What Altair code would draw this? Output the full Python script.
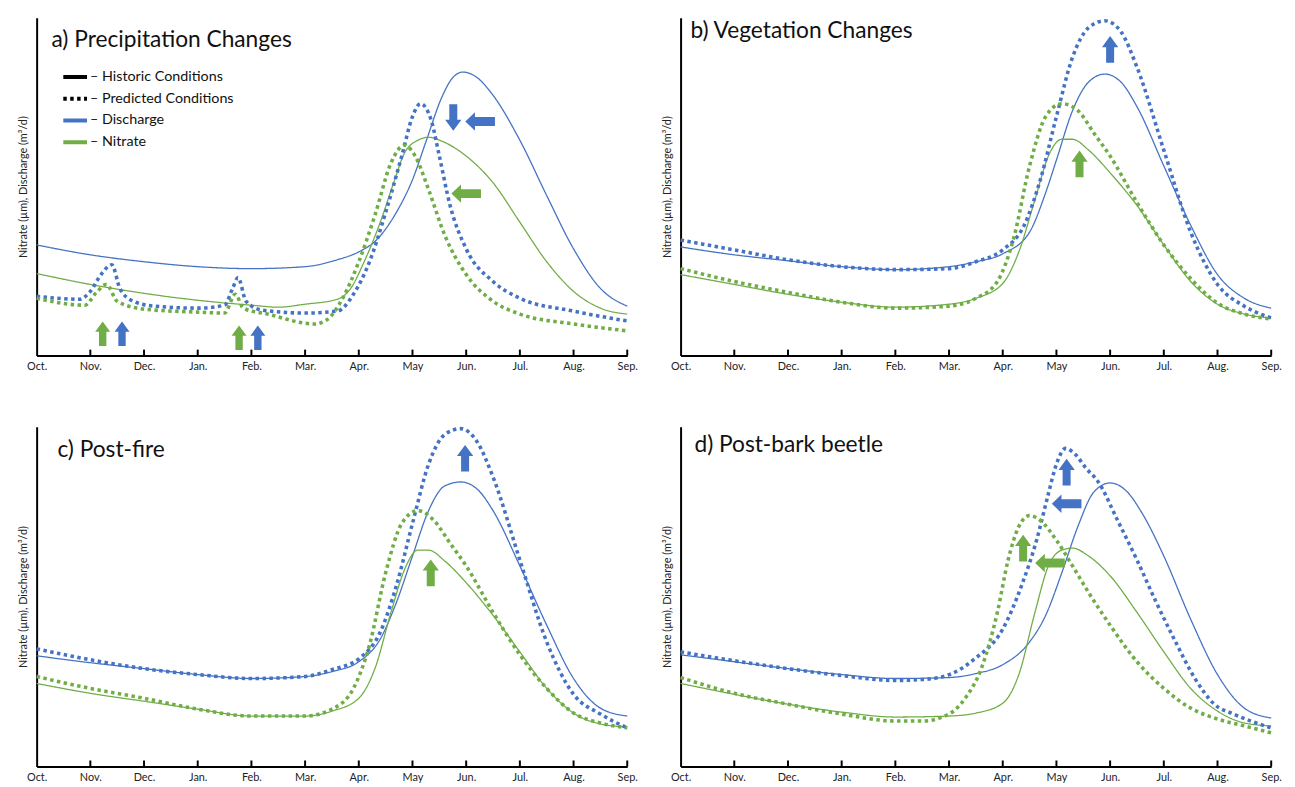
import json
import altair as alt
import pandas as pd

FONT = "Lato"
BLUE = "#4472C4"
GREEN = "#70AD47"
MONTHS = ["Oct.", "Nov.", "Dec.", "Jan.", "Feb.", "Mar.", "Apr.", "May", "Jun.", "Jul.", "Aug.", "Sep."]
KEYS = ["Historic Conditions", "Predicted Conditions", "Discharge", "Nitrate"]
Y_TITLE = "Nitrate (µm), Discharge (m³/d)"

# ---------------- panel a: Precipitation Changes ----------------
A_DH_M = [0, 1, 2, 3, 4, 5, 5.6, 6, 6.33, 6.7, 7, 7.26, 7.55, 7.76, 7.94, 8.19, 8.48, 9, 9.5, 10, 10.5, 11]
A_DH_V = [112, 102, 95, 90, 88, 90, 97, 105, 117, 145, 178, 218, 262, 282, 287, 282, 265, 218, 162, 108, 68, 50]
A_NH_M = [0, 1, 2, 3, 4, 4.5, 5, 5.6, 5.85, 6.1, 6.4, 6.65, 6.85, 7.1, 7.3, 7.55, 8, 8.5, 9, 9.5, 10, 10.5, 11]
A_NH_V = [83, 72, 63, 56, 51, 49, 52, 57, 68, 95, 135, 175, 205, 218, 221, 217, 202, 175, 135, 95, 65, 48, 42]
A_DP_M = [0, 0.8, 1.0, 1.2, 1.4, 1.55, 1.8, 2.2, 3, 3.5, 3.65, 3.75, 3.9, 4.2, 5, 5.6, 5.9, 6.2, 6.5, 6.8, 7.0, 7.15, 7.35, 7.5, 7.7, 8, 8.5, 9, 10, 11]
A_DP_V = [60, 57, 65, 82, 92, 68, 55, 50, 48, 51, 68, 79, 55, 46, 43, 45, 62, 95, 145, 202, 242, 255, 238, 202, 152, 108, 75, 58, 45, 35]
A_NP_M = [0, 0.9, 1.1, 1.3, 1.5, 2, 3, 3.5, 3.7, 3.85, 4.3, 5.18, 5.4, 5.7, 6, 6.3, 6.6, 6.85, 7.05, 7.3, 7.6, 8, 8.5, 9, 10, 11]
A_NP_V = [58, 51, 63, 72, 55, 47, 44, 43, 62, 48, 42, 32, 36, 58, 95, 142, 195, 213, 202, 168, 122, 82, 55, 42, 32, 25]

# ---------------- panel b: Vegetation Changes ----------------
B_DH_M = [0, 1, 2, 3, 4, 5, 5.5, 6, 6.5, 6.8, 7, 7.3, 7.6, 7.9, 8.2, 8.5, 9, 9.5, 10, 10.5, 11]
B_DH_V = [110, 102, 96, 90, 87, 90, 95, 103, 125, 165, 198, 248, 277, 285, 277, 252, 192, 132, 82, 58, 48]
B_DP_M = [0, 1, 2, 3, 4, 5, 5.5, 6, 6.4, 6.7, 7, 7.3, 7.6, 7.9, 8.2, 8.5, 9, 9.5, 10, 10.5, 11]
B_DP_V = [117, 107, 97, 90, 87, 88, 95, 107, 132, 178, 242, 302, 332, 339, 328, 292, 208, 125, 72, 50, 38]
B_NH_M = [0, 1, 2, 3, 4, 5, 5.5, 6, 6.3, 6.6, 6.85, 7.1, 7.3, 7.6, 8, 8.5, 9, 9.5, 10, 10.5, 11]
B_NH_V = [82, 72, 62, 54, 49, 52, 58, 73, 105, 158, 202, 219, 219, 208, 185, 152, 112, 75, 52, 42, 38]
B_NP_M = [0, 1, 2, 3, 4, 5, 5.5, 5.9, 6.2, 6.5, 6.8, 7.1, 7.4, 7.7, 8, 8.5, 9, 9.5, 10, 10.5, 11]
B_NP_V = [88, 75, 64, 54, 48, 50, 58, 75, 118, 192, 242, 255, 248, 225, 202, 155, 112, 78, 53, 42, 37]

# ---------------- panel c: Post-fire ----------------
C_DH_M = [0, 1, 2, 3, 4, 5, 5.5, 6, 6.4, 6.7, 7, 7.3, 7.6, 7.9, 8.2, 8.5, 9, 9.5, 10, 10.5, 11]
C_DH_V = [112, 105, 99, 93, 89, 91, 96, 106, 129, 166, 213, 259, 284, 288, 281, 259, 203, 143, 89, 59, 51]
C_DP_M = [0, 1, 2, 3, 4, 5, 5.5, 6, 6.4, 6.7, 7, 7.3, 7.6, 7.9, 8.2, 8.5, 9, 9.5, 10, 10.5, 11]
C_DP_V = [119, 108, 99, 93, 89, 91, 98, 109, 136, 183, 246, 306, 336, 342, 329, 293, 209, 126, 73, 53, 39]
C_NH_M = [0, 1, 2, 3, 4, 5, 5.5, 6, 6.3, 6.6, 6.85, 7.1, 7.3, 7.6, 8, 8.5, 9, 9.5, 10, 10.5, 11]
C_NH_V = [84, 74, 66, 58, 51, 51, 56, 69, 99, 156, 199, 219, 219, 208, 186, 153, 116, 79, 54, 43, 40]
C_NP_M = [0, 1, 2, 3, 4, 5, 5.5, 5.9, 6.2, 6.5, 6.8, 7.1, 7.4, 7.7, 8, 8.5, 9, 9.5, 10, 10.5, 11]
C_NP_V = [91, 79, 69, 58, 51, 51, 58, 79, 123, 196, 246, 259, 249, 226, 203, 156, 113, 79, 54, 44, 39]

# ---------------- panel d: Post-bark beetle ----------------
D_DH_M = [0, 1, 2, 3, 4, 5, 5.5, 6, 6.5, 6.8, 7.1, 7.4, 7.7, 8, 8.3, 8.6, 9, 9.5, 10, 10.5, 11]
D_DH_V = [113, 106, 99, 93, 89, 90, 94, 103, 126, 153, 196, 243, 278, 287, 279, 256, 213, 149, 93, 59, 49]
D_DP_M = [0, 1, 2, 3, 4, 4.5, 4.9, 5.48, 6.0, 6.35, 6.63, 6.85, 7.0, 7.17, 7.35, 7.55, 7.78, 8.14, 8.5, 8.86, 9.22, 9.58, 9.94, 10.3, 11]
D_DP_V = [116, 107, 99, 92, 87, 88, 91, 109, 139, 183, 229, 276, 306, 322, 316, 302, 288, 249, 209, 166, 126, 89, 63, 53, 39]
D_NH_M = [0, 1, 2, 3, 4, 5, 5.5, 6, 6.3, 6.6, 6.85, 7.1, 7.3, 7.6, 8, 8.5, 9, 9.5, 10, 10.5, 11]
D_NH_V = [84, 73, 63, 55, 50, 51, 54, 64, 93, 156, 203, 219, 221, 213, 193, 156, 116, 79, 56, 44, 41]
D_NP_M = [0, 1, 2, 3, 4, 4.5, 5, 5.3, 5.6, 5.9, 6.1, 6.3, 6.5, 6.7, 7.0, 7.3, 7.6, 8, 8.5, 9, 9.5, 10, 10.5, 11]
D_NP_V = [90, 74, 63, 53, 46, 46, 53, 69, 99, 156, 209, 243, 254, 249, 229, 203, 176, 143, 106, 79, 59, 48, 41, 34]

# ---------------- arrows ----------------
ARROW_PANEL = ["a", "a", "a", "a", "a", "a", "a", "b", "b", "c", "c", "d", "d", "d", "d"]
ARROW_MONTH = [1.23, 1.59, 3.77, 4.12, 7.76, 8.26, 8.0, 8.0, 7.43, 7.98, 7.34, 7.19, 7.19, 6.38, 6.88]
ARROW_LEVEL = [22, 22, 18, 18, 241, 237, 164, 310, 194, 312, 196, 298, 266, 221, 206]
ARROW_DIR = ["up", "up", "up", "up", "down", "left", "left", "up", "up", "up", "up", "up", "left", "up", "left"]
ARROW_VAR = ["Nitrate", "Discharge", "Nitrate", "Discharge", "Discharge", "Discharge", "Nitrate",
             "Discharge", "Nitrate", "Discharge", "Nitrate", "Discharge", "Discharge", "Nitrate", "Nitrate"]

PANEL_TITLES = {"a": "a) Precipitation Changes", "b": "b) Vegetation Changes",
                "c": "c) Post-fire", "d": "d) Post-bark beetle"}
TITLE_POS = {"a": (15, 30), "b": (10, 20), "c": (21, 31), "d": (14, 26)}

SERIES = [
    ("a", "Discharge", "Historic Conditions", A_DH_M, A_DH_V),
    ("a", "Nitrate", "Historic Conditions", A_NH_M, A_NH_V),
    ("a", "Discharge", "Predicted Conditions", A_DP_M, A_DP_V),
    ("a", "Nitrate", "Predicted Conditions", A_NP_M, A_NP_V),
    ("b", "Discharge", "Historic Conditions", B_DH_M, B_DH_V),
    ("b", "Nitrate", "Historic Conditions", B_NH_M, B_NH_V),
    ("b", "Discharge", "Predicted Conditions", B_DP_M, B_DP_V),
    ("b", "Nitrate", "Predicted Conditions", B_NP_M, B_NP_V),
    ("c", "Discharge", "Historic Conditions", C_DH_M, C_DH_V),
    ("c", "Nitrate", "Historic Conditions", C_NH_M, C_NH_V),
    ("c", "Discharge", "Predicted Conditions", C_DP_M, C_DP_V),
    ("c", "Nitrate", "Predicted Conditions", C_NP_M, C_NP_V),
    ("d", "Discharge", "Historic Conditions", D_DH_M, D_DH_V),
    ("d", "Nitrate", "Historic Conditions", D_NH_M, D_NH_V),
    ("d", "Discharge", "Predicted Conditions", D_DP_M, D_DP_V),
    ("d", "Nitrate", "Predicted Conditions", D_NP_M, D_NP_V),
]

frames = []
for p, var, cond, m, v in SERIES:
    frames.append(pd.DataFrame({"panel": p, "var": var, "cond": cond, "month": m, "value": v}))
lines_df = pd.concat(frames, ignore_index=True)

arrows_df = pd.DataFrame({"panel": ARROW_PANEL, "month": ARROW_MONTH, "value": ARROW_LEVEL,
                          "dir": ARROW_DIR, "var": ARROW_VAR})
ticks_df = pd.DataFrame({"month": list(range(1, len(MONTHS)))})

W = 598
HEIGHTS = {"a": 342, "b": 342, "c": 344, "d": 344}

UP = "M-0.27,0.9 L-0.27,-0.15 L-0.55,-0.15 L0,-0.9 L0.55,-0.15 L0.27,-0.15 L0.27,0.9 Z"
DOWN = "M-0.27,-0.9 L-0.27,0.15 L-0.55,0.15 L0,0.9 L0.55,0.15 L0.27,0.15 L0.27,-0.9 Z"
LEFT = "M1,-0.3 L-0.35,-0.3 L-0.35,-0.62 L-1,0 L-0.35,0.62 L-0.35,0.3 L1,0.3 Z"

label_expr = json.dumps(MONTHS) + "[datum.value]"


def make_panel(p, show_legend):
    H = HEIGHTS[p]
    x_enc = alt.X("month:Q", scale=alt.Scale(domain=[0, 11], nice=False, zero=False),
                  axis=alt.Axis(values=list(range(12)), labelExpr=label_expr, title=None, grid=False,
                                ticks=False, labelFlush=False, labelOverlap=False, labelPadding=5,
                                labelFont=FONT, labelFontSize=11, labelColor="#222",
                                domainColor="black", domainWidth=2))
    y_enc = alt.Y("value:Q", scale=alt.Scale(domain=[0, H], nice=False),
                  axis=alt.Axis(title=Y_TITLE, labels=False, ticks=False, grid=False,
                                domainColor="black", domainWidth=2, titleFont=FONT, titleFontSize=11,
                                titleFontWeight="normal", titleColor="#222", titlePadding=8))
    if show_legend:
        leg = alt.Legend(orient="none", legendX=25, legendY=46, title=None, symbolType="stroke",
                         symbolSize=576, symbolStrokeWidth=4, labelFont=FONT, labelFontSize=14.5,
                         labelColor="#111", labelExpr="'– ' + datum.label", rowPadding=0,
                         padding=0, labelOffset=1)
    else:
        leg = None
    stroke_scale = alt.Scale(domain=KEYS, range=["black", "black", BLUE, GREEN])
    dash_scale = alt.Scale(domain=KEYS, range=[[1, 0], [3.5, 3.5], [1, 0], [1, 0]])
    lines = alt.Chart(lines_df[lines_df.panel == p]).mark_line(interpolate="monotone").encode(
        x=x_enc, y=y_enc,
        stroke=alt.Stroke("var:N", scale=stroke_scale, legend=leg),
        strokeDash=alt.StrokeDash("cond:N", scale=dash_scale, legend=leg),
        strokeWidth=alt.StrokeWidth("cond:N", scale=alt.Scale(domain=KEYS[:2], range=[1.3, 3.6]),
                                    legend=None),
    )
    ticks = alt.Chart(ticks_df).mark_rule(color="black", strokeWidth=2).encode(
        x=alt.X("month:Q"), y=alt.value(H), y2=alt.value(H - 6))
    arrows = alt.Chart(arrows_df[arrows_df.panel == p]).mark_point(filled=True, opacity=1).encode(
        x="month:Q", y="value:Q",
        shape=alt.Shape("dir:N", scale=alt.Scale(domain=["up", "down", "left"], range=[UP, DOWN, LEFT]),
                        legend=None),
        fill=alt.Fill("var:N", scale=alt.Scale(domain=["Discharge", "Nitrate"], range=[BLUE, GREEN]),
                      legend=None),
        size=alt.condition("datum.dir == 'up' && datum.panel == 'a'", alt.value(760), alt.value(900)),
    )
    tx, ty = TITLE_POS[p]
    title = alt.Chart(pd.DataFrame({"t": [PANEL_TITLES[p]]})).mark_text(
        align="left", baseline="alphabetic", font=FONT, fontSize=23, color="#111", clip=True).encode(
        text="t:N", x=alt.value(tx), y=alt.value(ty))
    return alt.layer(lines, ticks, arrows, title).properties(width=W, height=H)


panels = [make_panel("a", True), make_panel("b", False), make_panel("c", False), make_panel("d", False)]

chart = alt.concat(*panels, columns=2, spacing={"row": 72, "column": 54}, bounds="flush").resolve_scale(
    stroke="independent", strokeDash="independent", strokeWidth="independent",
    fill="independent", shape="independent"
).properties(
    padding={"left": 10, "top": 0, "right": 5, "bottom": 5},
    background="white",
).configure_view(stroke=None)

chart.save("out.html", embed_options={"renderer": "svg", "actions": False})
